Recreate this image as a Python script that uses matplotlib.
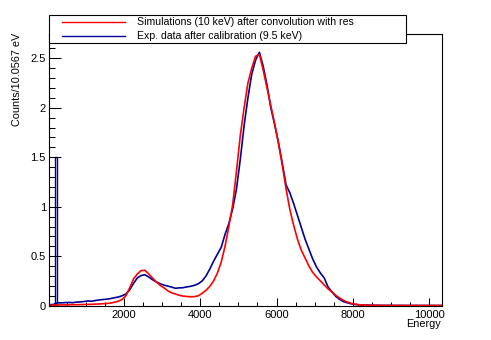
#!/usr/bin/env python3
"""
Simulated vs. measured energy spectrum (ROOT-style histogram comparison)
"""

import numpy as np
import matplotlib
matplotlib.use('Agg')
import matplotlib.pyplot as plt
from matplotlib.patches import Rectangle
from matplotlib.lines import Line2D
from matplotlib.ticker import MultipleLocator, FuncFormatter

plt.rcParams['font.family'] = ['Liberation Sans', 'DejaVu Sans']

# bin width 100 eV, bins from 0 to 10400 eV
bin_width = 100
n_bins = 104

# experimental data after calibration (9.5 keV)
exp_counts = [
    0.010, 0.012, 0.030, 0.028, 0.031, 0.033, 0.030, 0.036, 0.038, 0.042,
    0.048, 0.045, 0.052, 0.058, 0.062, 0.066, 0.072, 0.080, 0.088, 0.100,
    0.118, 0.160, 0.225, 0.280, 0.305, 0.312, 0.290, 0.262, 0.240, 0.222,
    0.208, 0.198, 0.188, 0.176, 0.180, 0.182, 0.190, 0.196, 0.206, 0.222,
    0.250, 0.300, 0.370, 0.450, 0.520, 0.590, 0.720, 0.830, 0.980, 1.180,
    1.480, 1.820, 2.100, 2.340, 2.480, 2.560, 2.420, 2.230, 2.000, 1.830,
    1.650, 1.440, 1.220, 1.140, 1.030, 0.910, 0.790, 0.670, 0.570, 0.470,
    0.390, 0.330, 0.280, 0.190, 0.140, 0.095, 0.065, 0.042, 0.030, 0.020,
    0.013, 0.009, 0.007, 0.006, 0.005, 0.004, 0.004, 0.003, 0.003, 0.003,
    0.003, 0.002, 0.003, 0.002, 0.002, 0.002, 0.002, 0.002, 0.002, 0.002,
    0.002, 0.002, 0.002, 0.002,
]

# narrow spike at low energy in the measured spectrum
spike_edges = [195, 245]
spike_counts = [1.50]

# simulation (10 keV) after convolution with resolution
sim_counts = [
    0.005, 0.006, 0.007, 0.008, 0.008, 0.009, 0.010, 0.010, 0.011, 0.012,
    0.013, 0.014, 0.016, 0.017, 0.020, 0.022, 0.027, 0.034, 0.045, 0.062,
    0.100, 0.180, 0.270, 0.320, 0.355, 0.358, 0.320, 0.280, 0.240, 0.205,
    0.180, 0.150, 0.130, 0.118, 0.105, 0.097, 0.093, 0.090, 0.092, 0.100,
    0.125, 0.155, 0.195, 0.250, 0.330, 0.440, 0.600, 0.800, 1.020, 1.360,
    1.720, 2.000, 2.250, 2.400, 2.520, 2.540, 2.380, 2.200, 2.020, 1.840,
    1.640, 1.420, 1.180, 0.970, 0.810, 0.670, 0.560, 0.480, 0.400, 0.335,
    0.290, 0.250, 0.210, 0.170, 0.140, 0.105, 0.078, 0.055, 0.037, 0.025,
    0.016, 0.010, 0.007, 0.005, 0.004, 0.003, 0.003, 0.003, 0.002, 0.002,
    0.002, 0.002, 0.002, 0.002, 0.002, 0.002, 0.002, 0.002, 0.002, 0.002,
    0.002, 0.002, 0.002, 0.002,
]

sim_label = 'Simulations (10 keV) after convolution with res'
exp_label = 'Exp. data after calibration (9.5 keV)'

centers = (np.arange(n_bins) + 0.5) * bin_width

sim_color = '#ff0000'
exp_color = '#000099'

fig = plt.figure(figsize=(4.91, 3.40), dpi=100)
ax = fig.add_axes([0.0998, 0.1009, 0.7998, 0.7991])

ax.plot(centers, exp_counts, color=exp_color, lw=1.2)
ax.stairs(spike_counts, spike_edges, color=exp_color, lw=1.0)
ax.plot(centers, sim_counts, color=sim_color, lw=1.2)

ax.set_xlim(35, 10330)
ax.set_ylim(0, 2.745)

# ROOT-like axes
ax.xaxis.set_major_locator(MultipleLocator(2000))
ax.xaxis.set_minor_locator(MultipleLocator(500))
ax.yaxis.set_major_locator(MultipleLocator(0.5))
ax.yaxis.set_minor_locator(MultipleLocator(0.1))
fmt = FuncFormatter(lambda v, p: f'{v:g}')
ax.xaxis.set_major_formatter(fmt)
ax.yaxis.set_major_formatter(fmt)
ax.tick_params(which='both', direction='in', top=False, right=False,
               width=0.75, labelsize=8.0)
ax.tick_params(axis='y', which='major', length=8.6, pad=2.2)
ax.tick_params(axis='y', which='minor', length=4.3)
ax.tick_params(axis='x', which='major', length=5.8, pad=3.0)
ax.tick_params(axis='x', which='minor', length=2.9)
for sp in ax.spines.values():
    sp.set_linewidth(0.8)
    sp.set_color('black')

# axis titles
fig.text(16.7 / 491, 1 - 33 / 340, 'Counts/10.0567 eV', rotation=90,
         ha='center', va='top', fontsize=7.8)
fig.text(441 / 491, 1 - 327 / 340, 'Energy', ha='right', va='baseline',
         fontsize=7.8)

# legend box (drawn on the figure, over the top of the frame)
fig.patches.append(Rectangle((49 / 491, 1 - 43 / 340), (405.7 - 49) / 491,
                             28 / 340, transform=fig.transFigure,
                             facecolor='white', edgecolor='black', lw=0.8,
                             zorder=5))
rows = [(sim_label, sim_color, 1 - 22.3 / 340),
        (exp_label, exp_color, 1 - 36 / 340)]
for label, color, y in rows:
    fig.lines.append(Line2D([62 / 491, 125 / 491], [y, y], color=color,
                            lw=1.0, transform=fig.transFigure, zorder=6))
    fig.text(137 / 491, y, label, ha='left', va='center', fontsize=7.6,
             zorder=7)

fig.savefig('out.png', dpi=100, facecolor='white')
